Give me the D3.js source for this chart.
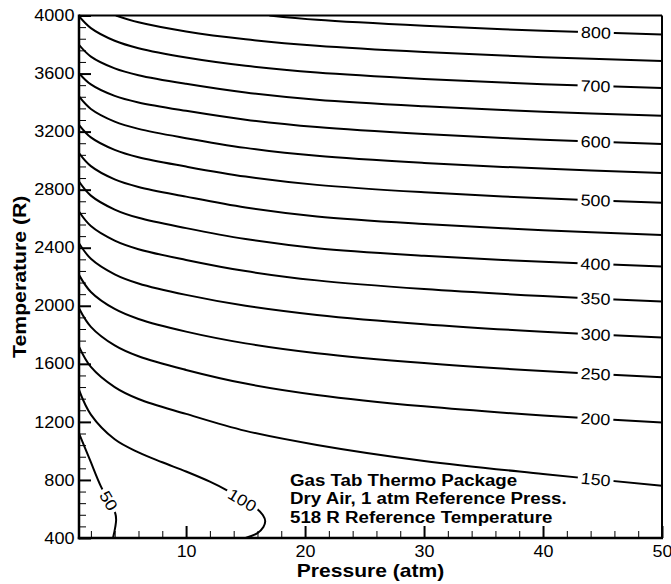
<!DOCTYPE html>
<html>
<head>
<meta charset="utf-8">
<script src="https://cdn.jsdelivr.net/npm/d3@7"></script>
<style>
	body { margin: 0; background: #fff; }
	svg { display: block; }
</style>
</head>
<body>
<div id="chart"></div>
<script>
// pressure grid (atm) for the contours that cross the whole plot
const pGrid = [1, 2, 4, 6, 10, 15, 21, 30, 40, 50]
// temperature (R) of each contour at pGrid
const t150 = [1719, 1579, 1440, 1358, 1255, 1138, 1041, 931, 841, 760]
const t200 = [1983, 1855, 1727, 1652, 1558, 1464, 1386, 1307, 1244, 1195]
const t250 = [2213, 2095, 1978, 1909, 1822, 1741, 1673, 1605, 1550, 1508]
const t300 = [2431, 2324, 2217, 2154, 2075, 2000, 1937, 1873, 1821, 1781]
const t350 = [2649, 2549, 2449, 2390, 2316, 2239, 2175, 2115, 2067, 2029]
const t400 = [2856, 2759, 2663, 2606, 2535, 2460, 2397, 2345, 2303, 2270]
const t450 = [3052, 2962, 2871, 2819, 2752, 2677, 2615, 2563, 2521, 2488]
const t500 = [3247, 3160, 3074, 3023, 2959, 2890, 2833, 2782, 2741, 2709]
const t550 = [3442, 3356, 3269, 3219, 3155, 3088, 3033, 2984, 2945, 2914]
const t600 = [3603, 3525, 3446, 3401, 3343, 3282, 3231, 3183, 3144, 3114]
const t650 = [3798, 3717, 3636, 3589, 3529, 3469, 3419, 3374, 3337, 3309]
const t700 = [3995, 3913, 3826, 3775, 3711, 3654, 3607, 3563, 3527, 3500]
const gridLevels = [150, 200, 250, 300, 350, 400, 450, 500, 550, 600, 650, 700]
const gridTemps = [t150, t200, t250, t300, t350, t400, t450, t500, t550, t600, t650, t700]

// the two top contours come in through the 4000 R edge
const p750 = [4.1, 6, 10, 15, 21, 30, 40, 50]
const t750 = [4000, 3953, 3890, 3836, 3791, 3748, 3713, 3686]
const p800 = [17, 21, 30, 40, 50]
const t800 = [4000, 3970, 3929, 3895, 3869]

// low contours curl back down to the 400 R edge, [P, T]
const c100 = [[1, 1420], [2, 1250], [4, 1080], [6, 990], [8, 922], [10, 858], [12, 788],
	[13.4, 730], [14.7, 664], [15.9, 605], [16.45, 558], [16.65, 517], [16.5, 476], [16, 434], [15, 400]]
const c50 = [[1, 1120], [1.92, 938], [2.85, 754], [4.05, 570], [4.12, 524], [4.05, 476], [3.95, 434], [3.86, 400]]

// where contour labels sit (pressure along the curve)
const rightLabels = [150, 200, 250, 300, 350, 400, 500, 600, 700, 800]
const rightLabelP = 44.4
const curlLabels = [{ level: 50, p: 3.48 }, { level: 100, p: 14.7 }]

const xMajor = [10, 20, 30, 40, 50]
const xMinor = d3.range(2, 50, 2).filter(v => v % 10 !== 0)
const yMajor = d3.range(400, 4001, 400)
const yMinor = d3.range(480, 4000, 80).filter(v => v % 400 !== 0)

const notes = ['Gas Tab Thermo Package', 'Dry Air, 1 atm Reference Press.', '518 R Reference Temperature']

const FONT = '"Liberation Sans", Arial, Helvetica, sans-serif'
const width = 671
const height = 584
const margin = { top: 15.5, right: 9, bottom: 46, left: 79 }

const svg = d3.select('#chart')
	.append('svg')
	.attr('width', width)
	.attr('height', height)

const x = d3.scaleLinear().domain([1, 50]).range([margin.left, width - margin.right])
const y = d3.scaleLinear().domain([400, 4000]).range([height - margin.bottom, margin.top])

svg.append('clipPath')
	.attr('id', 'plotClip')
	.append('rect')
	.attr('x', x(1))
	.attr('y', y(4000))
	.attr('width', x(50) - x(1))
	.attr('height', y(400) - y(4000))

// put the contour list together
const contours = [
	{ level: 50, pts: c50 },
	{ level: 100, pts: c100 },
	...gridLevels.map((lv, i) => ({ level: lv, pts: pGrid.map((p, j) => [p, gridTemps[i][j]]) })),
	{ level: 750, pts: p750.map((p, i) => [p, t750[i]]) },
	{ level: 800, pts: p800.map((p, i) => [p, t800[i]]) },
]

const line = d3.line()
	.x(d => x(d[0]))
	.y(d => y(d[1]))
	.curve(d3.curveCatmullRom.alpha(0.5))

const pathByLevel = {}
svg.append('g')
	.attr('clip-path', 'url(#plotClip)')
	.selectAll('path')
	.data(contours)
	.enter()
	.append('path')
	.attr('d', d => line(d.pts))
	.attr('fill', 'none')
	.attr('stroke', '#000')
	.attr('stroke-width', 2)
	.each(function (d) { pathByLevel[d.level] = this })

// find where a path first reaches a screen x
function lengthAtX(node, px) {
	const len = node.getTotalLength()
	for (let l = 0; l <= len; l += 0.5) {
		if (node.getPointAtLength(l).x >= px) return l
	}
	return len
}

const labelSpecs = [...curlLabels, ...rightLabels.map(level => ({ level, p: rightLabelP }))]
const labelLayer = svg.append('g')
labelSpecs.forEach(spec => {
	const node = pathByLevel[spec.level]
	const l = lengthAtX(node, x(spec.p))
	const pt = node.getPointAtLength(l)
	const a = node.getPointAtLength(Math.max(0, l - 4))
	const b = node.getPointAtLength(l + 4)
	const angle = Math.atan2(b.y - a.y, b.x - a.x) * 180 / Math.PI
	const g = labelLayer.append('g')
		.attr('transform', `translate(${pt.x},${pt.y}) rotate(${angle})`)
	const sx = 1.12
	const txt = g.append('text')
		.attr('text-anchor', 'middle')
		.attr('dy', '0.36em')
		.attr('font-family', FONT)
		.attr('font-size', 16)
		.attr('transform', `scale(${sx},1)`)
		.text(spec.level)
	const bb = txt.node().getBBox()
	g.insert('rect', 'text')
		.attr('x', bb.x * sx - 3)
		.attr('y', -7)
		.attr('width', bb.width * sx + 6)
		.attr('height', 14)
		.attr('fill', '#fff')
})

// axes: ticks point inward
const yAxis = svg.append('g')
	.attr('transform', `translate(${margin.left},0)`)
	.call(d3.axisLeft(y).tickValues(yMajor).tickSize(-12).tickPadding(4).tickFormat(d3.format('d')))
yAxis.select('.domain').remove()
yAxis.attr('font-family', FONT).attr('font-size', 16)
yAxis.selectAll('.tick line').attr('stroke-width', 2)
yAxis.selectAll('.tick text').attr('fill', '#000').attr('transform', 'scale(1.13,1)')

const yAxisMinor = svg.append('g')
	.attr('transform', `translate(${margin.left},0)`)
	.call(d3.axisLeft(y).tickValues(yMinor).tickSize(-7).tickFormat(''))
yAxisMinor.select('.domain').remove()

const xAxis = svg.append('g')
	.attr('transform', `translate(0,${height - margin.bottom})`)
	.call(d3.axisBottom(x).tickValues(xMajor).tickSize(-12).tickPadding(8).tickFormat(d3.format('d')))
xAxis.select('.domain').remove()
xAxis.attr('font-family', FONT).attr('font-size', 16)
xAxis.selectAll('.tick line').attr('stroke-width', 2)
xAxis.selectAll('.tick text').attr('fill', '#000').attr('transform', 'scale(1.12,1)')

const xAxisMinor = svg.append('g')
	.attr('transform', `translate(0,${height - margin.bottom})`)
	.call(d3.axisBottom(x).tickValues(xMinor).tickSize(-7).tickFormat(''))
xAxisMinor.select('.domain').remove()

// frame
const frame = svg.append('g').attr('stroke', '#000').attr('fill', 'none')
frame.append('line').attr('x1', x(1)).attr('x2', x(50)).attr('y1', y(4000)).attr('y2', y(4000)).attr('stroke-width', 2)
frame.append('line').attr('x1', x(50)).attr('x2', x(50)).attr('y1', y(4000)).attr('y2', y(400)).attr('stroke-width', 2)
frame.append('line').attr('x1', x(1)).attr('x2', x(1)).attr('y1', y(4000) - 1).attr('y2', y(400) + 1.2).attr('stroke-width', 2.5)
frame.append('line').attr('x1', x(1) - 1.2).attr('x2', x(50) + 1).attr('y1', y(400)).attr('y2', y(400)).attr('stroke-width', 2.5)

// axis titles
svg.append('text')
	.attr('transform', `translate(${(x(1) + x(50)) / 2},577) scale(1.17,1)`)
	.attr('text-anchor', 'middle')
	.attr('font-family', FONT)
	.attr('font-weight', 'bold')
	.attr('font-size', 18)
	.text('Pressure (atm)')

svg.append('text')
	.attr('transform', `translate(25.5,${(y(400) + y(4000)) / 2}) rotate(-90) scale(1.18,1)`)
	.attr('text-anchor', 'middle')
	.attr('font-family', FONT)
	.attr('font-weight', 'bold')
	.attr('font-size', 18)
	.text('Temperature (R)')

// package note
svg.append('g')
	.selectAll('text')
	.data(notes)
	.enter()
	.append('text')
	.attr('transform', (d, i) => `translate(290,${486 + i * 18.4}) scale(1.1,1)`)
	.attr('font-family', FONT)
	.attr('font-weight', 'bold')
	.attr('font-size', 17)
	.text(d => d)
</script>
</body>
</html>
